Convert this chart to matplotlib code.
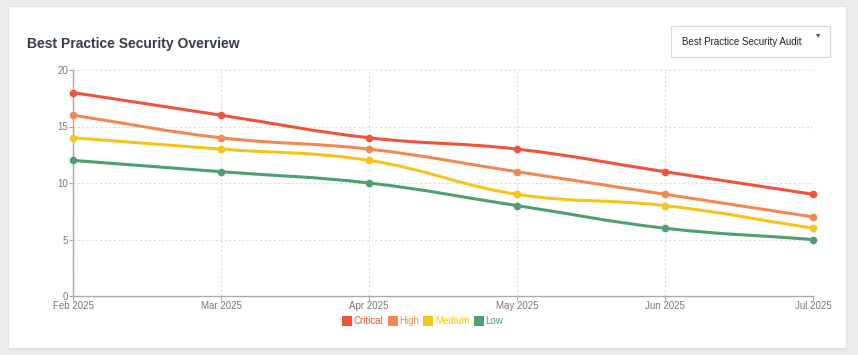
import numpy as np
import matplotlib
matplotlib.use("Agg")
import matplotlib.pyplot as plt
from matplotlib.path import Path
from matplotlib.patches import PathPatch, Rectangle
from matplotlib.lines import Line2D

plt.rcParams['font.family'] = ['Liberation Sans', 'DejaVu Sans']

# dados
meses = ["Feb 2025", "Mar 2025", "Apr 2025", "May 2025", "Jun 2025", "Jul 2025"]
series = ["Critical", "High", "Medium", "Low"]
critical = [18, 16, 14, 13, 11, 9]
high = [16, 14, 13, 11, 9, 7]
medium = [14, 13, 12, 9, 8, 6]
low = [12, 11, 10, 8, 6, 5]
valores = [critical, high, medium, low]
cores = ["#f0533a", "#f08a52", "#f7c41a", "#4e9f72"]


def curva_suave(x, y, sx, sy, t=0.4):
    # curva bezier tipo chart.js (so desenho, nao cria dados)
    n = len(x)
    px = np.array(x, float) * sx
    py = np.array(y, float) * sy
    cp_in, cp_out = [], []
    for i in range(n):
        p0 = (px[max(i - 1, 0)], py[max(i - 1, 0)])
        p1 = (px[i], py[i])
        p2 = (px[min(i + 1, n - 1)], py[min(i + 1, n - 1)])
        d01 = np.hypot(p1[0] - p0[0], p1[1] - p0[1])
        d12 = np.hypot(p2[0] - p1[0], p2[1] - p1[1])
        s = d01 + d12 if d01 + d12 else 1
        fa, fb = t * d01 / s, t * d12 / s
        dx, dy = p2[0] - p0[0], p2[1] - p0[1]
        cp_in.append((p1[0] - fa * dx, p1[1] - fa * dy))
        cp_out.append((p1[0] + fb * dx, p1[1] + fb * dy))
    verts = [(px[0], py[0])]
    codes = [Path.MOVETO]
    for i in range(n - 1):
        verts += [cp_out[i], cp_in[i + 1], (px[i + 1], py[i + 1])]
        codes += [Path.CURVE4] * 3
    verts = [(vx / sx, vy / sy) for vx, vy in verts]
    return Path(verts, codes)


fig = plt.figure(figsize=(8.58, 3.55), dpi=100)
fig.patch.set_facecolor("#ececec")

# cartao branco
sombra = Rectangle((9 / 858, 1 - 350 / 355), 838 / 858, 343 / 355, transform=fig.transFigure,
                   facecolor="#dcdcdc", edgecolor="none", zorder=-2)
cartao = Rectangle((8 / 858, 1 - 348 / 355), 838 / 858, 342 / 355, transform=fig.transFigure,
                   facecolor="white", edgecolor="#e2e2e2", linewidth=0.6, zorder=-1)
fig.patches.extend([sombra, cartao])

fig.text(27 / 858, 1 - 44 / 355, "Best Practice Security Overview", fontsize=10,
         fontweight="bold", color="#343d46", va="center", ha="left")

# caixa do dropdown
caixa = Rectangle((671 / 858, 1 - 57 / 355), 159 / 858, 31 / 355, transform=fig.transFigure,
                  facecolor="white", edgecolor="#d8d8d8", linewidth=0.8, zorder=-1)
fig.patches.append(caixa)
fig.text(682 / 858, 1 - 42 / 355, "Best Practice Security Audit", fontsize=7,
         color="#222222", va="center", ha="left")
fig.text(818 / 858, 1 - 36 / 355, "\u25BE", fontsize=6, color="#555555", va="center", ha="center")

ax = fig.add_axes([73 / 858, 1 - 296 / 355, 740 / 858, 226 / 355], zorder=2)
ax.patch.set_alpha(0)
x = np.arange(len(meses))
ax.set_xlim(0, len(meses) - 1)
ax.set_ylim(0, 20)
ax.set_xticks(x)
ax.set_xticklabels(meses)
ax.set_yticks([0, 5, 10, 15, 20])
ax.grid(True, color="#dddddd", linestyle=(0, (2, 2)), linewidth=0.8)
ax.set_axisbelow(True)
for lado in ["top", "right"]:
    ax.spines[lado].set_visible(False)
for lado in ["left", "bottom"]:
    ax.spines[lado].set_color("#aaaaaa")
    ax.spines[lado].set_linewidth(1.0)
ax.tick_params(colors="#aaaaaa", labelcolor="#777777", labelsize=7, length=3, width=0.8, pad=0.5)

sx, sy = 148.0, 11.3
for nome, ys, cor in zip(series, valores, cores):
    caminho = curva_suave(x, ys, sx, sy)
    ax.add_patch(PathPatch(caminho, facecolor="none", edgecolor=cor, linewidth=2.2,
                           zorder=3, clip_on=False))
    ax.plot(x, ys, "o", color=cor, markersize=4.5, zorder=4, clip_on=False)

alcas = [Line2D([], [], marker="s", linestyle="none", color=c, markersize=6.5,
                markeredgewidth=0) for c in cores]
leg = fig.legend(alcas, series, loc="center", bbox_to_anchor=(423 / 858, 1 - 321 / 355),
                 ncol=4, frameon=False, fontsize=7, handletextpad=0.25, columnspacing=0.6,
                 handlelength=0.8)
for txt, c in zip(leg.get_texts(), cores):
    txt.set_color(c)

fig.savefig("out.png", dpi=100, facecolor=fig.get_facecolor())
